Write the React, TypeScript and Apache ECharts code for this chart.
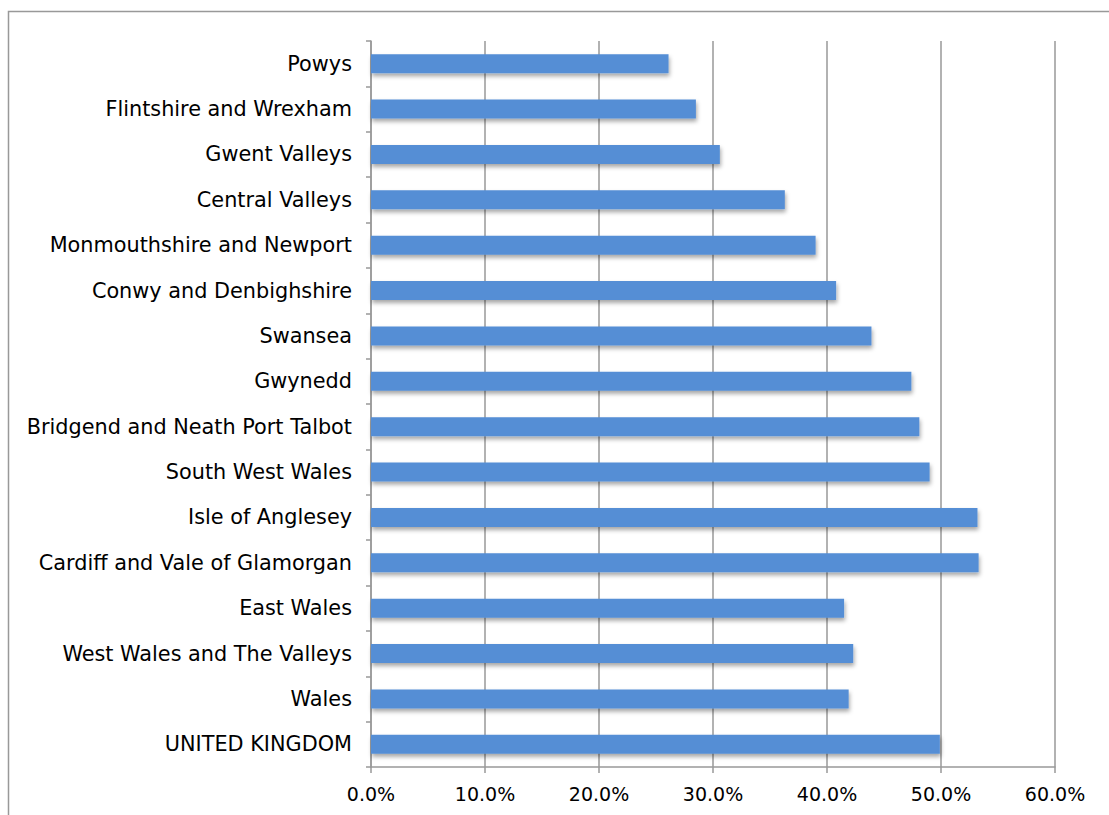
import React, { useEffect, useRef } from "react";
import * as echarts from "echarts";

const categories = [
  "Powys",
  "Flintshire and Wrexham",
  "Gwent Valleys",
  "Central Valleys",
  "Monmouthshire and Newport",
  "Conwy and Denbighshire",
  "Swansea",
  "Gwynedd",
  "Bridgend and Neath Port Talbot",
  "South West Wales",
  "Isle of Anglesey",
  "Cardiff and Vale of Glamorgan",
  "East Wales",
  "West Wales and The Valleys",
  "Wales",
  "UNITED KINGDOM",
];

const values = [26.1, 28.5, 30.6, 36.3, 39.0, 40.8, 43.9, 47.4, 48.1, 49.0, 53.2, 53.3, 41.5, 42.3, 41.9, 49.9];

const xTicks = { min: 0, max: 60, interval: 10 };

export default function App() {
  const ref = useRef<HTMLDivElement>(null);
  useEffect(() => {
    if (!ref.current) return;
    const chart = echarts.init(ref.current, null, { renderer: "svg" });
    const font = "'Lucida Grande', 'DejaVu Sans', sans-serif";
    chart.setOption({
      animation: false,
      backgroundColor: "#ffffff",
      graphic: [
        {
          type: "rect",
          shape: { x: 8.5, y: 11.5, width: 1120, height: 830 },
          style: { fill: "none", stroke: "#999999", lineWidth: 1.5 },
          silent: true,
        },
      ],
      grid: { left: 371, top: 41, width: 684, height: 726, containLabel: false },
      xAxis: {
        type: "value",
        min: xTicks.min,
        max: xTicks.max,
        interval: xTicks.interval,
        axisLine: { show: true, lineStyle: { color: "#999999", width: 1.5 } },
        axisTick: { show: true, length: 6, lineStyle: { color: "#999999", width: 1.5 } },
        splitLine: { show: true, lineStyle: { color: "#999999", width: 1.5 } },
        axisLabel: {
          formatter: (v: number) => v.toFixed(1) + "%",
          color: "#000000",
          fontSize: 19,
          fontFamily: font,
          margin: 17,
        },
      },
      yAxis: {
        type: "category",
        data: categories,
        inverse: true,
        axisLine: { show: true, lineStyle: { color: "#999999", width: 1.5 } },
        axisTick: { show: true, length: 5, lineStyle: { color: "#999999", width: 1.5 } },
        splitLine: { show: false },
        axisLabel: {
          color: "#000000",
          fontSize: 20.8,
          fontFamily: font,
          margin: 19,
        },
      },
      series: [
        {
          type: "bar",
          data: values,
          barWidth: 19,
          itemStyle: {
            color: "#558ed5",
            shadowColor: "rgba(0,0,0,0.35)",
            shadowBlur: 4,
            shadowOffsetY: 3,
            shadowOffsetX: 1,
          },
        },
      ],
    });
    return () => chart.dispose();
  }, []);
  return (
    <div
      ref={ref}
      style={{ position: "fixed", left: 0, top: 0, width: 1109, height: 815 }}
    />
  );
}
